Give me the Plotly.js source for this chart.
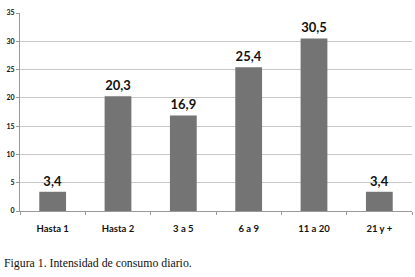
<!DOCTYPE html>
<html><head><meta charset="utf-8">
<script src="https://cdn.plot.ly/plotly-3.0.1.min.js"></script>
<style>html,body{margin:0;padding:0;background:#fff;}#c{width:415px;height:277px;}</style>
</head><body><div id="c"></div>
<script>
const categories = ["Hasta 1", "Hasta 2", "3 a 5", "6 a 9", "11 a 20", "21 y +"];
const values = [3.4, 20.3, 16.9, 25.4, 30.5, 3.4];
const labels = ["3,4", "20,3", "16,9", "25,4", "30,5", "3,4"];
const yTicks = [0, 5, 10, 15, 20, 25, 30, 35];

const trace = {
  type: "bar", x: categories, y: values, text: labels,
  textposition: "outside", cliponaxis: false,
  textfont: {family: "Lato, 'Open Sans', sans-serif", size: 13, color: "#111", weight: "bold"},
  marker: {color: "#747474"}, hoverinfo: "none"
};
const layout = {
  width: 415, height: 277,
  margin: {l: 20, r: 3, t: 13, b: 66},
  paper_bgcolor: "#fff", plot_bgcolor: "#fff",
  bargap: 0.59, showlegend: false,
  font: {family: "Lato, sans-serif", color: "#111"},
  xaxis: {
    type: "category", showline: true, linecolor: "#999", linewidth: 1,
    ticks: "outside", tickson: "boundaries", ticklen: 3, tickcolor: "#999",
    ticklabelstandoff: 9,
    tickfont: {size: 9.5, family: "Lato, sans-serif", weight: "bold", color: "#111"},
    showgrid: false
  },
  yaxis: {
    range: [0, 35], tickvals: yTicks, ticktext: yTicks.map(String),
    showline: true, linecolor: "#999", linewidth: 1,
    ticks: "outside", ticklen: 3, tickcolor: "#999",
    gridcolor: "#c8c8c8", gridwidth: 1, zeroline: false,
    tickfont: {size: 7, family: "Lato, sans-serif", weight: "bold", color: "#111"}
  },
  annotations: [{
    text: "Figura 1. Intensidad de consumo diario.",
    xref: "paper", yref: "paper", x: -0.045, y: -0.263,
    xanchor: "left", yanchor: "middle", showarrow: false,
    font: {family: "'Liberation Serif', 'DejaVu Serif', serif", size: 11.8, color: "#111"}
  }]
};
Plotly.newPlot("c", [trace], layout, {staticPlot: true, displayModeBar: false});
</script></body></html>
